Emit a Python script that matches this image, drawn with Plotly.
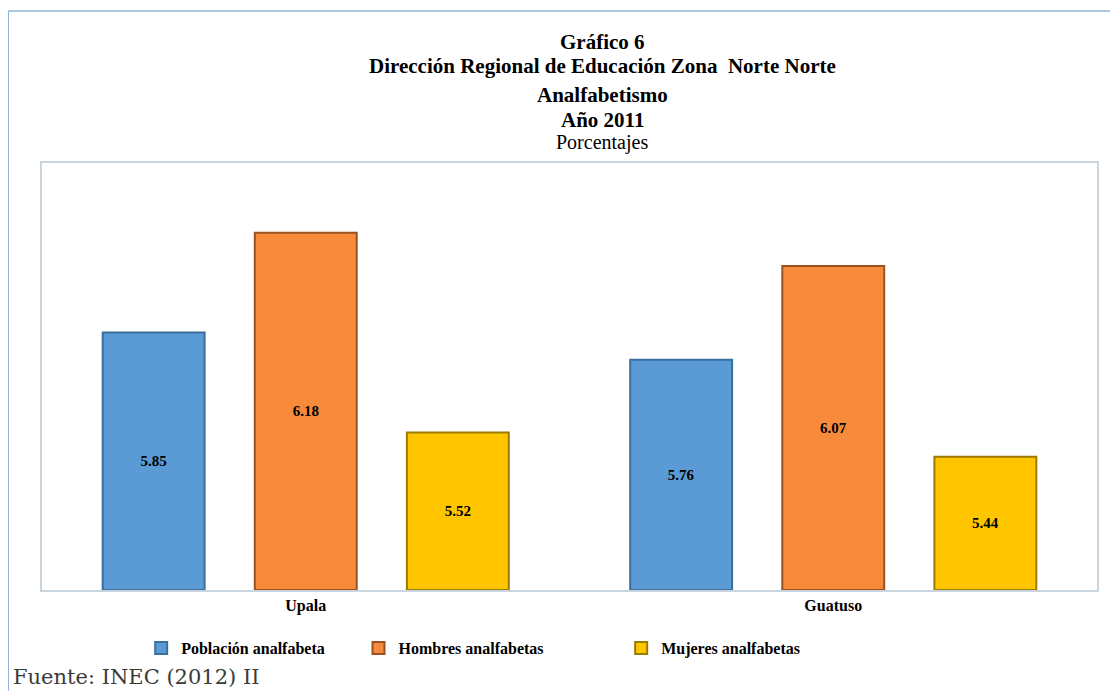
import plotly.graph_objects as go

categories = ["Upala", "Guatuso"]
series_names = ["Población analfabeta", "Hombres analfabetas", "Mujeres analfabetas"]
poblacion = [5.85, 5.76]
hombres = [6.18, 6.07]
mujeres = [5.52, 5.44]

title_lines = ["<b>Gráfico 6</b>",
               "<b>Dirección Regional de Educación Zona  Norte Norte</b>",
               "<b>Analfabetismo</b>",
               "<b>Año 2011</b>",
               "Porcentajes"]
source_text = "Fuente: INEC (2012) II"

AXIS_MIN = 5.0
AXIS_MAX = 6.41

colors = ["#5B9BD5", "#F88A3C", "#FFC600"]
edges = ["#3A6E9E", "#9A5220", "#9C7A00"]
values = [poblacion, hombres, mujeres]
legend_ids = ["legend", "legend2", "legend3"]

fig = go.Figure()
for name, vals, c, e, lg in zip(series_names, values, colors, edges, legend_ids):
    fig.add_trace(go.Bar(
        x=categories, y=[v - AXIS_MIN for v in vals], base=AXIS_MIN,
        name=f"<b>{name}</b>", legend=lg,
        marker=dict(color=c, line=dict(color=e, width=2)),
        text=[f"{v:.2f}" for v in vals],
        customdata=vals, hovertemplate="%{x}: %{customdata:.2f}<extra></extra>",
        textposition="inside", insidetextanchor="middle",
        textfont=dict(family="Liberation Serif", size=15, color="black"),
        texttemplate="<b>%{text}</b>",
    ))

legend_font = dict(family="Liberation Serif", size=16, color="black")
fig.update_layout(
    width=1110, height=683,
    margin=dict(l=34, r=21, t=155, b=101),
    paper_bgcolor="white", plot_bgcolor="white",
    barmode="group", bargap=0.135, bargroupgap=0.33,
    xaxis=dict(showline=True, mirror=True, linecolor="#C9D5DE", linewidth=2,
               ticks="", tickfont=dict(family="Liberation Serif", size=16, color="black"),
               tickprefix="<b>", ticksuffix="</b>"),
    yaxis=dict(range=[AXIS_MIN, AXIS_MAX], showticklabels=False, showgrid=False, zeroline=False,
               showline=True, mirror=True, linecolor="#C9D5DE", linewidth=2, ticks=""),
    legend=dict(x=0.094, y=-0.136, xanchor="left", yanchor="middle", font=legend_font, bgcolor="rgba(0,0,0,0)"),
    legend2=dict(x=0.300, y=-0.136, xanchor="left", yanchor="middle", font=legend_font, bgcolor="rgba(0,0,0,0)"),
    legend3=dict(x=0.549, y=-0.136, xanchor="left", yanchor="middle", font=legend_font, bgcolor="rgba(0,0,0,0)"),
    showlegend=True,
)

title_y = [1.283, 1.227, 1.159, 1.101, 1.047]
title_sizes = [21, 21, 21, 21, 20]
for txt, yy, sz in zip(title_lines, title_y, title_sizes):
    fig.add_annotation(text=txt, xref="paper", yref="paper", x=0.531, y=yy,
                       xanchor="center", yanchor="middle", showarrow=False,
                       font=dict(family="Liberation Serif", size=sz, color="black"))

fig.add_annotation(text=source_text, xref="paper", yref="paper",
                   x=-0.029, y=-0.204, xanchor="left", yanchor="middle", showarrow=False,
                   font=dict(family="DejaVu Serif", size=21, color="#3A3A3A"))

# outer frame lines (top and left)
fig.add_shape(type="line", xref="paper", yref="paper", x0=-0.032, x1=1.03, y0=1.356, y1=1.356,
              line=dict(color="#8FB4D9", width=1.5))
fig.add_shape(type="line", xref="paper", yref="paper", x0=-0.032, x1=-0.032, y0=-0.25, y1=1.356,
              line=dict(color="#8FB4D9", width=1.5))

fig.write_html("out.html")
